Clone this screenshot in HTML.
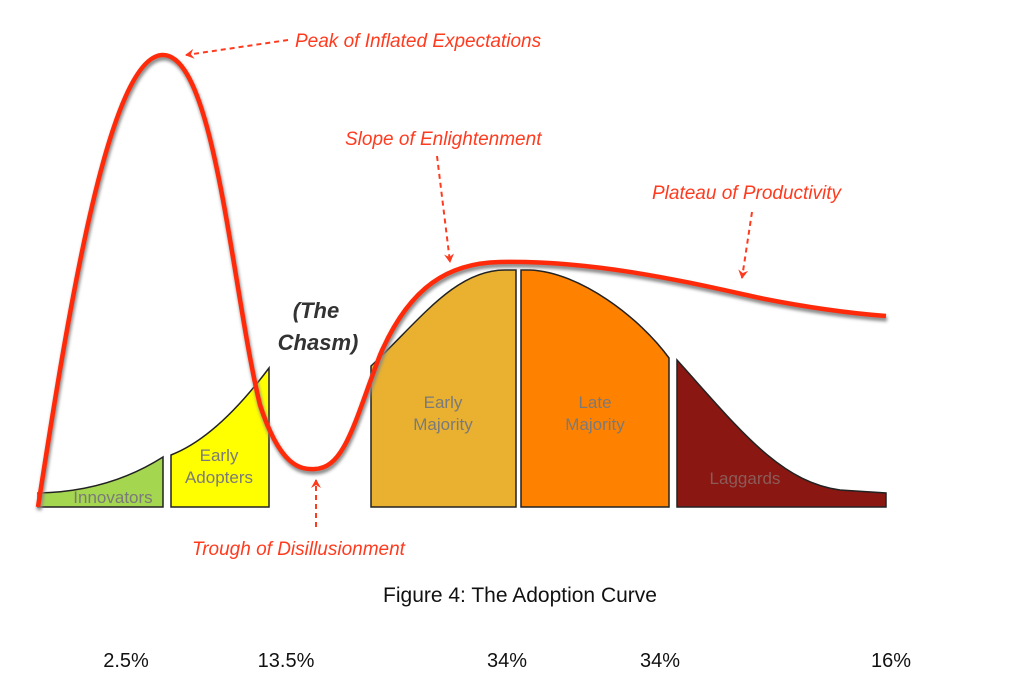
<!DOCTYPE html>
<html><head><meta charset="utf-8"><style>
html,body{margin:0;padding:0;background:#fff;}
svg{display:block;font-family:"Liberation Sans",sans-serif;}
</style></head><body>
<svg id="chart" width="1021" height="693" viewBox="0 0 1021 693" xmlns="http://www.w3.org/2000/svg">
<defs><filter id="sh" x="-5%" y="-5%" width="110%" height="115%"><feGaussianBlur stdDeviation="1.5"/></filter>
<marker id="ah" markerWidth="10" markerHeight="10" refX="8" refY="5" orient="auto" markerUnits="userSpaceOnUse"><path d="M0,0 L9,5 L0,10 L3,5 Z" fill="#ff3b1f"/></marker></defs>
<g stroke="#222" stroke-width="1.5">
<path d="M38,507 L38,493 C90,492 130,478 163,457 L163,507 Z" fill="#a5d64f"/>
<path d="M171,507 L171,455 C210,440 245,400 269,368 L269,507 Z" fill="#ffff00"/>
<path d="M371,507 L371,366 C420,320 455,270 505,270 L516,270 L516,507 Z" fill="#e9b12f"/>
<path d="M521,507 L521,270 L530,270 C580,272 640,318 669,358 L669,507 Z" fill="#fe8100"/>
<path d="M677,507 L677,360 C740,430 780,482 840,490 L886,493 L886,507 Z" fill="#8a1712"/>
</g>
<g fill="#7a7a7a" font-size="17" text-anchor="middle">
<text x="113" y="503">Innovators</text>
<text x="219" y="461">Early</text>
<text x="219" y="483">Adopters</text>
<text x="443" y="408">Early</text>
<text x="443" y="430">Majority</text>
<text x="595" y="408">Late</text>
<text x="595" y="430">Majority</text>
<text x="745" y="484" fill="#8c5b58">Laggards</text>
</g>
<path d="M38,507 C70,300 110,55 163,55 C215,55 232,290 260,405 C280,466 300,470 315,469 C345,468 355,420 380,355 C410,285 450,263 500,262 C600,260 700,285 760,298 C820,310 860,314 886,316" fill="none" stroke="#888" stroke-width="5" filter="url(#sh)" transform="translate(1,3)"/>
<path d="M38,507 C70,300 110,55 163,55 C215,55 232,290 260,405 C280,466 300,470 315,469 C345,468 355,420 380,355 C410,285 450,263 500,262 C600,260 700,285 760,298 C820,310 860,314 886,316" fill="none" stroke="#ff2a0a" stroke-width="4.5"/>
<g stroke="#ff3b1f" stroke-width="2" stroke-dasharray="5,4" fill="none">
<line x1="288" y1="40" x2="186" y2="55" marker-end="url(#ah)"/>
<line x1="437" y1="156" x2="450" y2="262" marker-end="url(#ah)"/>
<line x1="752" y1="212" x2="742" y2="278" marker-end="url(#ah)"/>
<line x1="316" y1="527" x2="316" y2="480" marker-end="url(#ah)"/>
</g>
<g fill="#ff3b1f" font-size="19" font-style="italic">
<text x="295" y="47">Peak of Inflated Expectations</text>
<text x="345" y="145">Slope of Enlightenment</text>
<text x="652" y="199">Plateau of Productivity</text>
<text x="192" y="555">Trough of Disillusionment</text>
</g>
<g fill="#333" font-size="22" font-style="italic" font-weight="bold" text-anchor="middle">
<text x="316" y="318">(The</text>
<text x="318" y="350">Chasm)</text>
</g>
<text x="520" y="602" font-size="21" text-anchor="middle" fill="#111">Figure 4: The Adoption Curve</text>
<g id="pcts" font-size="20" text-anchor="middle" fill="#111"></g>
</svg>
<script>
const segmentNames = ["innovators", "early-adopters", "early-majority", "late-majority", "laggards"];
const percentValues = [2.5, 13.5, 34, 34, 16];
const percentLabels = ["2.5%", "13.5%", "34%", "34%", "16%"];
const segCenters = {"innovators":126,"early-adopters":286,"early-majority":507,"late-majority":660,"laggards":891};
const g = document.getElementById('pcts');
segmentNames.forEach((n, i) => {
  const t = document.createElementNS('http://www.w3.org/2000/svg', 'text');
  t.setAttribute('x', segCenters[n]);
  t.setAttribute('y', 667);
  t.textContent = percentLabels[i];
  
  
  g.appendChild(t);
});
</script>
</body></html>
